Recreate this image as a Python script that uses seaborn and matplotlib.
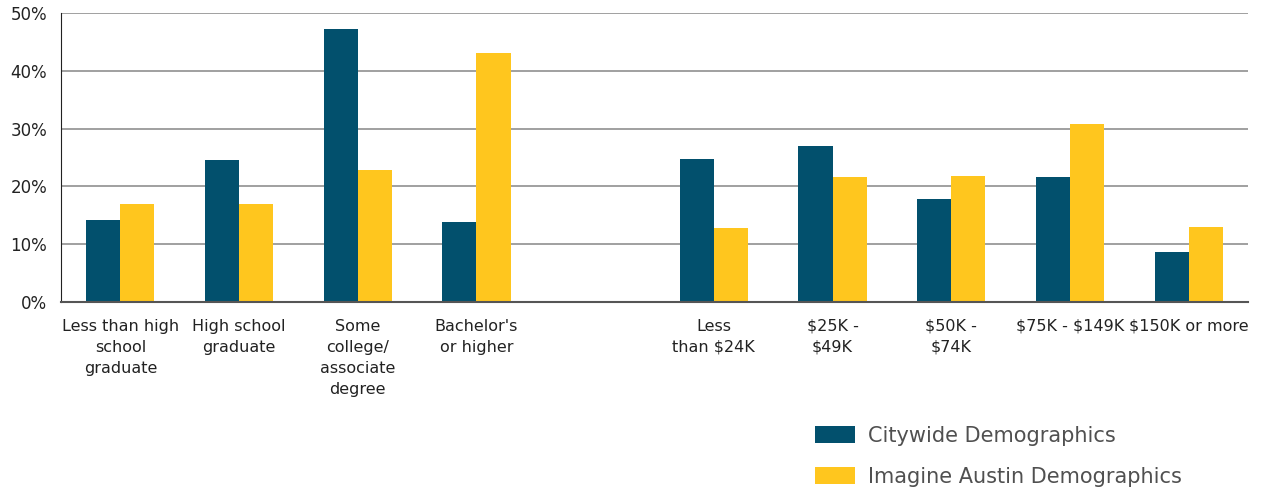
import matplotlib
matplotlib.use('Agg')
import matplotlib.pyplot as plt
import pandas as pd
import seaborn as sns
from matplotlib.patches import Patch
from matplotlib.ticker import FuncFormatter

# Data
categories = ['Less than high\nschool\ngraduate', 'High school\ngraduate',
              'Some\ncollege/\nassociate\ndegree', "Bachelor's\nor higher",
              ' ',
              'Less\nthan \\$24K', '\\$25K -\n\\$49K', '\\$50K -\n\\$74K',
              '\\$75K - \\$149K', '\\$150K or more']
data_cats = [c for c in categories if c != ' ']
citywide = [14.2, 24.6, 47.2, 13.8, 24.7, 27.0, 17.8, 21.6, 8.7]
imagine = [17.0, 17.0, 22.9, 43.0, 12.8, 21.7, 21.8, 30.8, 13.0]
series = ['Citywide Demographics', 'Imagine Austin Demographics']
colors = ['#02506D', '#FFC61E']

df = pd.DataFrame({
    'category': data_cats * 2,
    'value': citywide + imagine,
    'series': [series[0]] * len(data_cats) + [series[1]] * len(data_cats),
})

sns.set_style('white')
plt.rcParams['font.family'] = ['DejaVu Sans']

fig = plt.figure(figsize=(12.66, 4.94), dpi=100)
ax = fig.add_axes([61 / 1266, 1 - 302 / 494, (1248 - 61) / 1266, (302 - 13) / 494])

sns.barplot(data=df, x='category', y='value', hue='series', order=categories,
            hue_order=series, palette=colors, width=0.575, ax=ax,
            legend=False, saturation=1, linewidth=0)

ax.set_ylim(0, 50)
ax.set_xlim(-0.5, len(categories) - 0.5)
ax.set_yticks(range(0, 51, 10))
ax.yaxis.set_major_formatter(FuncFormatter(lambda v, p: f'{int(v)}%'))
ax.yaxis.grid(True, color='#999999', linewidth=1.3)
ax.set_axisbelow(True)
ax.set_xlabel('')
ax.set_ylabel('')
for s in ['top', 'right']:
    ax.spines[s].set_visible(False)
ax.spines['left'].set_color('#222222')
ax.spines['bottom'].set_color('#555555')
ax.spines['bottom'].set_linewidth(1.5)
ax.tick_params(axis='x', length=0, pad=12, labelsize=11.5, colors='#222222')
ax.tick_params(axis='y', length=0, pad=10, labelsize=12, colors='#222222')
for lbl in ax.get_xticklabels():
    lbl.set_linespacing(1.5)

handles = [Patch(facecolor=c, edgecolor='none', label=s) for c, s in zip(colors, series)]
leg = fig.legend(handles=handles, loc='upper left', bbox_to_anchor=(796 / 1266, 1 - 407 / 494),
                 frameon=False, fontsize=15, handlelength=1.95, handleheight=0.85,
                 labelspacing=1.0, handletextpad=0.6)
for t in leg.get_texts():
    t.set_color('#505050')

fig.savefig('out.png', dpi=100)
